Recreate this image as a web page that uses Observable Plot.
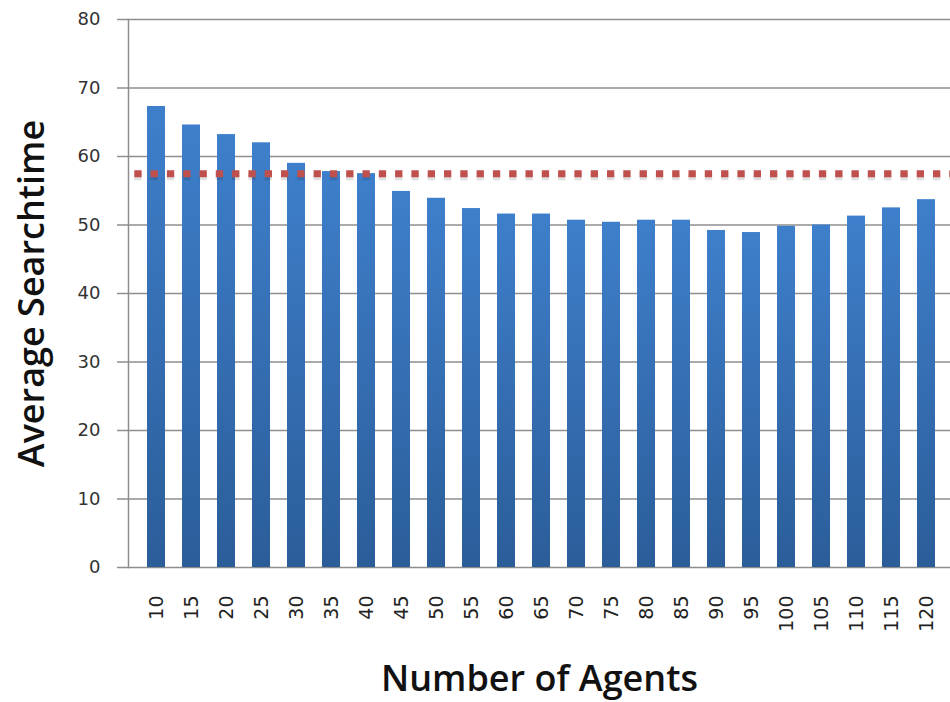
<!DOCTYPE html>
<html>
<head>
<meta charset="utf-8">
<script src="https://cdn.jsdelivr.net/npm/d3@7"></script>
<script src="https://cdn.jsdelivr.net/npm/@observablehq/plot@0.6"></script>
<style>
  html, body { margin: 0; padding: 0; background: #fff; overflow: hidden; }
  #chart svg { display: block; }
</style>
</head>
<body>
<div id="chart"></div>
<script>
const agents = [10,15,20,25,30,35,40,45,50,55,60,65,70,75,80,85,90,95,100,105,110,115,120];
const searchtime = [67.3,64.6,63.2,62.0,59.0,57.8,57.5,54.9,53.9,52.4,51.6,51.6,50.7,50.4,50.7,50.7,49.2,48.9,49.8,50.0,51.3,52.5,53.7];
const yTicks = [0,10,20,30,40,50,60,70,80];
const threshold = [57.5];
const xTitle = "Number of Agents";
const yTitle = "Average Searchtime";

const data = agents.map((a, i) => ({agents: a, value: searchtime[i]}));
const titleFont = "'Open Sans', 'DejaVu Sans', sans-serif";
const tickFont = "'DejaVu Sans', sans-serif";

const chart = Plot.plot({
  width: 950,
  height: 702,
  marginLeft: 128,
  marginRight: 0,
  marginTop: 19,
  marginBottom: 135,
  style: {fontFamily: tickFont, background: "#fff", overflow: "hidden"},
  x: {type: "band", domain: agents, range: [128, 953], padding: 0.5, align: 0.5},
  y: {domain: [0, 80], ticks: yTicks},
  marks: [
    Plot.gridY(yTicks, {stroke: "#8e8e8e", strokeOpacity: 1, strokeWidth: 1.5}),
    Plot.barY(data, {x: "agents", y: "value", fill: "url(#barGrad)"}),
    Plot.ruleY(threshold, {stroke: "#000", strokeOpacity: 0.12, strokeWidth: 7, strokeDasharray: "7.3,9", strokeDashoffset: 10, dy: 3}),
    Plot.ruleY(threshold, {stroke: "#c0504d", strokeWidth: 7, strokeDasharray: "7.3,9", strokeDashoffset: 10}),
    Plot.frame({anchor: "left", stroke: "#8e8e8e", strokeWidth: 1.5}),
    Plot.axisY({ticks: yTicks, tickSize: 11, tickPadding: 17, fontSize: 18, color: "#333", stroke: "#8e8e8e", strokeWidth: 1.5, label: null}),
    Plot.axisX({tickSize: 0, tickPadding: 0, rotate: -90, textAnchor: "end", lineAnchor: "middle", dy: 28, fontSize: 19, color: "#222", label: null}),
    Plot.text([yTitle], {frameAnchor: "left", textAnchor: "middle", dx: -96, rotate: -90, fontSize: 36, fontWeight: 600, fill: "#111", fontFamily: titleFont}),
    Plot.text([xTitle], {frameAnchor: "bottom", textAnchor: "middle", dy: 123, fontSize: 36, fontWeight: 600, fill: "#111", fontFamily: titleFont})
  ]
});

const svg = d3.select(chart);
const defs = svg.insert("defs", ":first-child");
const grad = defs.append("linearGradient")
  .attr("id", "barGrad").attr("x1", 0).attr("y1", 0).attr("x2", 0).attr("y2", 1);
grad.append("stop").attr("offset", "0%").attr("stop-color", "#3e7fcb");
grad.append("stop").attr("offset", "100%").attr("stop-color", "#2b5d99");

document.getElementById("chart").appendChild(chart);
</script>
</body>
</html>
